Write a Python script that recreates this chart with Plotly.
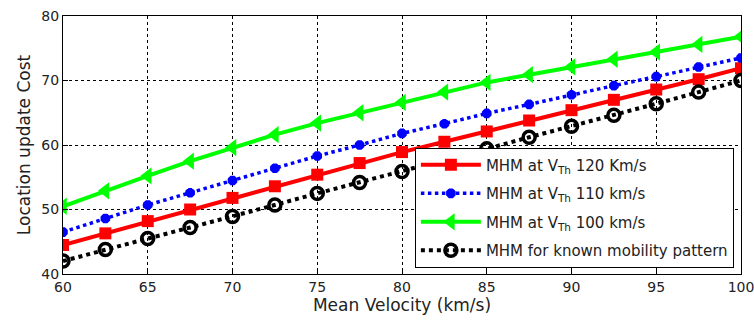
import plotly.graph_objects as go

velocity = [60, 62.5, 65, 67.5, 70, 72.5, 75, 77.5, 80, 82.5, 85, 87.5, 90, 92.5, 95, 97.5, 100]
mhm_120 = [44.5, 46.3, 48.2, 50.0, 51.8, 53.6, 55.4, 57.2, 58.9, 60.5, 62.1, 63.8, 65.4, 67.0, 68.6, 70.2, 71.9]
mhm_110 = [46.5, 48.6, 50.7, 52.6, 54.5, 56.4, 58.3, 60.0, 61.8, 63.3, 64.9, 66.3, 67.8, 69.2, 70.6, 72.1, 73.5]
mhm_100 = [50.5, 52.9, 55.2, 57.5, 59.6, 61.6, 63.4, 65.0, 66.6, 68.2, 69.7, 70.9, 72.1, 73.3, 74.4, 75.6, 76.8]
mhm_known = [42.0, 43.8, 45.5, 47.2, 48.9, 50.7, 52.5, 54.2, 55.9, 57.6, 59.4, 61.2, 62.9, 64.6, 66.4, 68.2, 70.0]

names = ["MHM at V<sub>Th</sub> 120 Km/s", "MHM at V<sub>Th</sub> 110 km/s",
         "MHM at V<sub>Th</sub> 100 km/s", "MHM for known mobility pattern"]

fig = go.Figure()
fig.add_trace(go.Scatter(x=velocity, y=mhm_120, name=names[0], mode="lines+markers", legendgroup="a",
                         line=dict(color="#ff0000", width=4),
                         marker=dict(symbol="square", size=12, color="#ff0000")))
fig.add_trace(go.Scatter(x=velocity, y=mhm_110, name=names[1], mode="lines+markers", legendgroup="b",
                         line=dict(color="#0000ff", width=3.5, dash="dot"),
                         marker=dict(symbol="asterisk-open", size=8, color="#0000ff",
                                     line=dict(color="#0000ff", width=4))))
fig.add_trace(go.Scatter(x=velocity, y=mhm_100, name=names[2], mode="lines+markers", legendgroup="c",
                         line=dict(color="#00ff00", width=4),
                         marker=dict(symbol="triangle-left", size=15, color="#00ff00")))
fig.add_trace(go.Scatter(x=velocity, y=mhm_known, name=names[3], mode="lines+markers", legendgroup="d",
                         line=dict(color="#000000", width=4, dash="dot"),
                         marker=dict(symbol="circle-open", size=12, color="#000000",
                                     line=dict(color="#000000", width=3.5))))

axis_common = dict(showline=True, linecolor="black", linewidth=1, mirror=True,
                   showgrid=True, gridcolor="black", griddash="3px,3px", gridwidth=1,
                   ticks="inside", ticklen=5, tickcolor="black", zeroline=False, automargin=False,
                   ticklabeloverflow="allow",
                   tickfont=dict(family="DejaVu Sans", size=14, color="#222222"))

fig.update_layout(
    width=754, height=323,
    margin=dict(l=63, r=13, t=16, b=49),
    plot_bgcolor="white", paper_bgcolor="white",
    font=dict(family="DejaVu Sans", color="#222222"),
    xaxis=dict(range=[60, 100], dtick=5, title=dict(text="Mean Velocity (km/s)", font=dict(size=17), standoff=4), **axis_common),
    yaxis=dict(range=[40, 80], dtick=10, title=dict(text="Location update Cost", font=dict(size=17), standoff=6), **axis_common),
    legend=dict(x=0.519, y=0.49, xanchor="left", yanchor="top", bgcolor="white",
                bordercolor="black", borderwidth=1, font=dict(size=15, color="#222222"),
                tracegroupgap=6, itemwidth=60),
    showlegend=True,
)

fig.write_html("out.html")
